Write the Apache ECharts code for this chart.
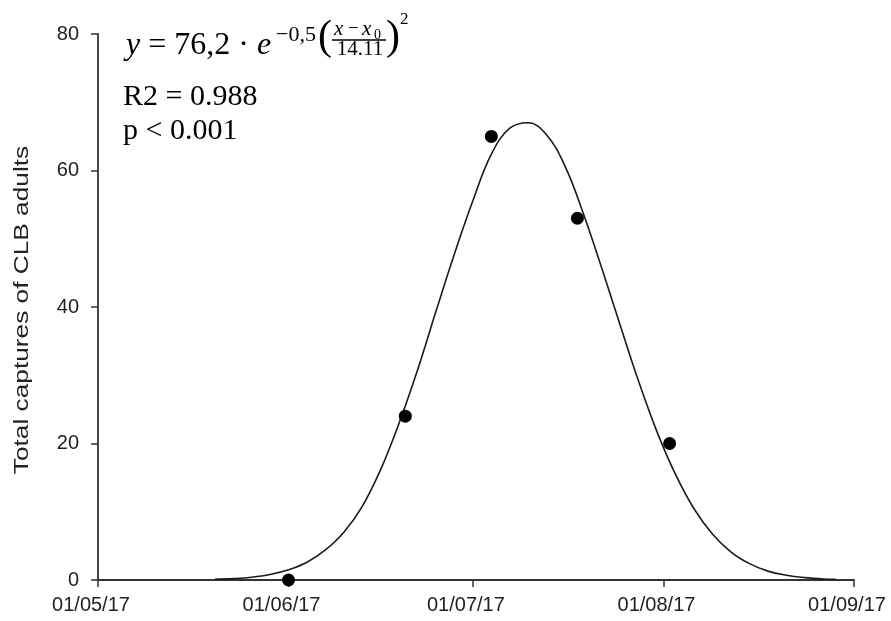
<!DOCTYPE html>
<html>
<head>
<meta charset="utf-8">
<script src="https://cdn.jsdelivr.net/npm/echarts@6/dist/echarts.min.js"></script>
<style>
  html, body { margin: 0; padding: 0; background: #fff; }
  #chart { width: 891px; height: 621px; }
</style>
</head>
<body>
<div id="chart"></div>
<script>
// Observed trap captures (sampling dates and counts)
const captureDates = ['2017-06-01', '2017-06-20', '2017-07-04', '2017-07-18', '2017-08-02'];
const captureCounts = [0, 24, 65, 53, 20];

// Fitted Gaussian curve, sampled every three days along the season
const fitDates = [
  '2017-05-20', '2017-05-23', '2017-05-26', '2017-05-29', '2017-06-01', '2017-06-04',
  '2017-06-07', '2017-06-10', '2017-06-13', '2017-06-16', '2017-06-19', '2017-06-22',
  '2017-06-25', '2017-06-28', '2017-07-01', '2017-07-04', '2017-07-07', '2017-07-10',
  '2017-07-13', '2017-07-16', '2017-07-19', '2017-07-22', '2017-07-25', '2017-07-28',
  '2017-07-31', '2017-08-03', '2017-08-06', '2017-08-09', '2017-08-12', '2017-08-15',
  '2017-08-18', '2017-08-21', '2017-08-24', '2017-08-27', '2017-08-29'
];
const fitValues = [
  0.1, 0.2, 0.4, 0.8, 1.5, 2.6,
  4.4, 7.0, 10.8, 16.2, 23.0, 30.8,
  39.4, 47.8, 55.6, 62.4, 66.2, 67.0,
  65.2, 60.6, 53.6, 45.6, 37.2, 29.0,
  21.6, 15.4, 10.4, 6.7, 4.1, 2.4,
  1.3, 0.7, 0.35, 0.15, 0.1
];

// Month ticks on the date axis
const tickDates = ['2017-05-01', '2017-06-01', '2017-07-01', '2017-08-01', '2017-09-01'];
const tickLabels = ['01/05/17', '01/06/17', '01/07/17', '01/08/17', '01/09/17'];

const yTicks = [0, 20, 40, 60, 80];

const toTime = s => { const p = s.split('-').map(Number); return Date.UTC(p[0], p[1] - 1, p[2]); };
const tickTimes = tickDates.map(toTime);

const chart = echarts.init(document.getElementById('chart'), null, { renderer: 'canvas' });

const serif = '"Liberation Serif", "Times New Roman", serif';
const sans = '"Liberation Sans", Arial, sans-serif';
const axisColor = '#333';

chart.setOption({
  animation: false,
  backgroundColor: '#fff',
  grid: { left: 98, right: 37, top: 34, bottom: 41, containLabel: false },
  xAxis: {
    type: 'value',
    min: tickTimes[0],
    max: tickTimes[tickTimes.length - 1],
    splitLine: { show: false },
    axisLine: { show: true, onZero: false, lineStyle: { color: axisColor, width: 1.8 } },
    axisTick: { show: true, length: 7, customValues: tickTimes, lineStyle: { color: axisColor, width: 1.5 } },
    axisLabel: {
      customValues: tickTimes,
      showMinLabel: true,
      showMaxLabel: true,
      margin: 15,
      fontFamily: sans,
      fontSize: 20,
      color: '#222',
      padding: [0, 14, 0, 0],
      formatter: v => {
        const i = tickTimes.indexOf(v);
        return i >= 0 ? tickLabels[i] : '';
      }
    }
  },
  yAxis: {
    type: 'value',
    min: yTicks[0],
    max: yTicks[yTicks.length - 1],
    interval: 20,
    splitLine: { show: false },
    axisLine: { show: true, lineStyle: { color: axisColor, width: 1.8 } },
    axisTick: { show: true, length: 7, lineStyle: { color: axisColor, width: 1.5 } },
    axisLabel: {
      margin: 19,
      fontFamily: sans,
      fontSize: 20,
      color: '#222'
    }
  },
  series: [
    {
      name: 'Gaussian fit',
      type: 'line',
      data: fitDates.map((d, i) => [toTime(d), fitValues[i]]),
      showSymbol: false,
      smooth: 0.4,
      lineStyle: { color: '#1a1a1a', width: 1.6 },
      z: 2
    },
    {
      name: 'Captures',
      type: 'scatter',
      data: captureDates.map((d, i) => [toTime(d), captureCounts[i]]),
      symbol: 'circle',
      symbolSize: 13,
      itemStyle: { color: '#000', opacity: 1 },
      z: 3
    }
  ],
  graphic: [
    // Y axis title, stretched along its reading direction
    {
      type: 'text',
      x: 22, y: 310,
      rotation: Math.PI / 2,
      scaleX: 1.25,
      style: {
        text: 'Total captures of CLB adults',
        font: '21px ' + sans,
        fill: '#222',
        align: 'center',
        verticalAlign: 'middle'
      }
    },
    // Fit equation
    {
      type: 'text', x: 126, y: 46,
      style: {
        text: '{i|y} = 76,2 · {i|e}',
        font: '32px ' + serif,
        fill: '#000',
        align: 'left',
        verticalAlign: 'middle',
        rich: { i: { fontStyle: 'italic', fontFamily: serif, fontSize: 32 } }
      }
    },
    {
      type: 'text', x: 276, y: 35,
      style: { text: '−0,5', font: '22px ' + serif, fill: '#000', align: 'left', verticalAlign: 'middle' }
    },
    {
      type: 'text', x: 318, y: 38,
      style: { text: '(', font: '42px ' + serif, fill: '#000', align: 'left', verticalAlign: 'middle' }
    },
    {
      type: 'text', x: 334, y: 29,
      style: { text: 'x', font: 'italic 21px ' + serif, fill: '#000', align: 'left', verticalAlign: 'middle' }
    },
    {
      type: 'text', x: 348, y: 29,
      style: { text: '−', font: '19px ' + serif, fill: '#000', align: 'left', verticalAlign: 'middle' }
    },
    {
      type: 'text', x: 362, y: 29,
      style: { text: 'x', font: 'italic 21px ' + serif, fill: '#000', align: 'left', verticalAlign: 'middle' }
    },
    {
      type: 'text', x: 374, y: 35,
      style: { text: '0', font: '14px ' + serif, fill: '#000', align: 'left', verticalAlign: 'middle' }
    },
    {
      type: 'line',
      shape: { x1: 332, y1: 40, x2: 386, y2: 40 },
      style: { stroke: '#000', lineWidth: 1.3 }
    },
    {
      type: 'text', x: 360, y: 49,
      style: { text: '14.11', font: '21px ' + serif, fill: '#000', align: 'center', verticalAlign: 'middle' }
    },
    {
      type: 'text', x: 386, y: 38,
      style: { text: ')', font: '42px ' + serif, fill: '#000', align: 'left', verticalAlign: 'middle' }
    },
    {
      type: 'text', x: 400, y: 20,
      style: { text: '2', font: '17px ' + serif, fill: '#000', align: 'left', verticalAlign: 'middle' }
    },
    // Goodness of fit
    {
      type: 'text', x: 123, y: 97,
      style: { text: 'R2 = 0.988', font: '30px ' + serif, fill: '#000', align: 'left', verticalAlign: 'middle' }
    },
    {
      type: 'text', x: 123, y: 131,
      style: { text: 'p < 0.001', font: '30px ' + serif, fill: '#000', align: 'left', verticalAlign: 'middle' }
    }
  ]
});
</script>
</body>
</html>
